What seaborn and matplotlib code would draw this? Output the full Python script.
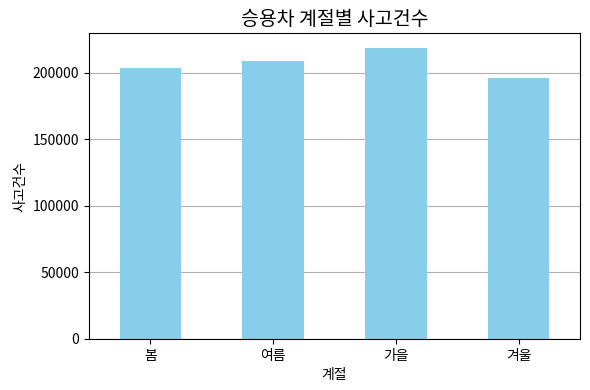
import seaborn as sns
import matplotlib.pyplot as plt
import pandas as pd

plt.rcParams['font.family'] = ['Noto Sans CJK KR', 'DejaVu Sans']

# 계절별 승용차 사고건수
seasons = ['봄', '여름', '가을', '겨울']
counts = [204000, 209300, 219000, 196500]

df = pd.DataFrame({'계절': seasons, '사고건수': counts})

fig, ax = plt.subplots(figsize=(5.9, 3.9), dpi=100)
sns.barplot(x='계절', y='사고건수', data=df, color='skyblue', width=0.5,
            saturation=1, ax=ax)
ax.set_title("승용차 계절별 사고건수", fontsize=14)
ax.set_xlabel("계절")
ax.set_ylabel("사고건수")
ax.set_xlim(-0.5, 3.5)
ax.yaxis.grid(True, color='#b0b0b0')
ax.set_axisbelow(True)
plt.subplots_adjust(left=0.151, right=0.983, top=0.915, bottom=0.131)
plt.savefig('out.png')
